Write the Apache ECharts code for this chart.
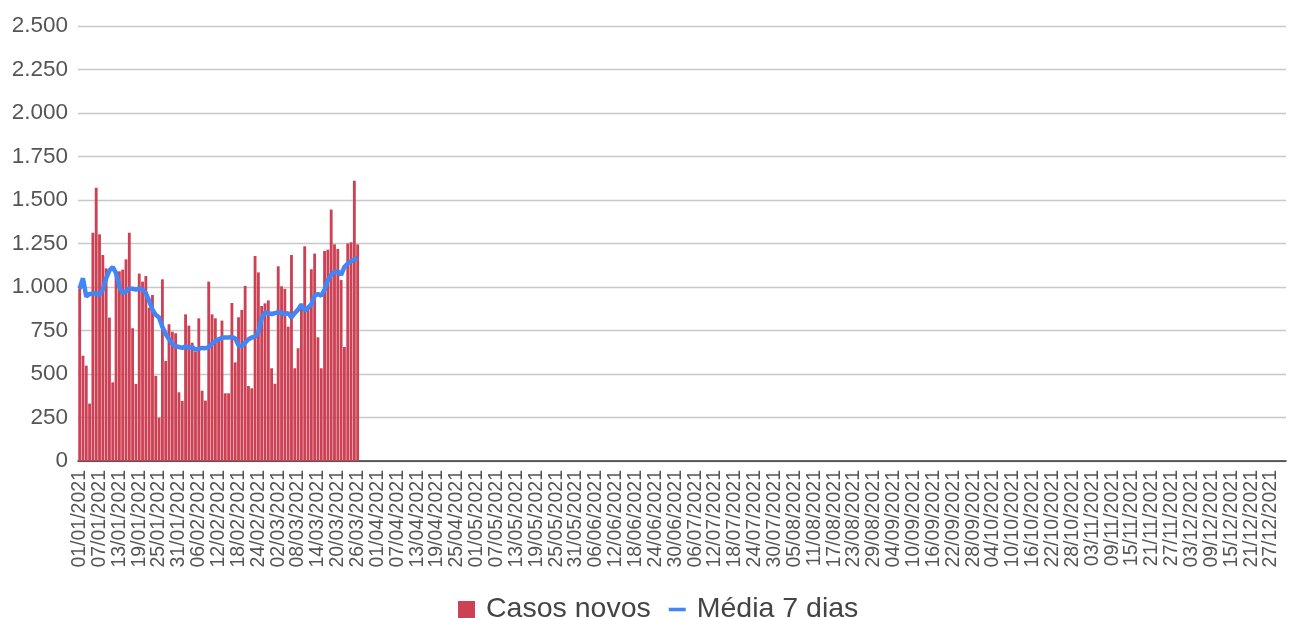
<!DOCTYPE html>
<html><head><meta charset="utf-8">
<script src="https://cdn.jsdelivr.net/npm/echarts@6/dist/echarts.min.js"></script>
<style>html,body{margin:0;padding:0;background:#fff}#c{width:1295px;height:618px}</style>
</head><body><div id="c"></div>
<script>
// Daily new cases, 01/01/2021 .. 26/03/2021
const casosNovos = [
  992, 605, 548, 330, 1312, 1571, 1303, 1184, 1107, 824,
  452, 1085, 1090, 1100, 1159, 1312, 763, 443, 1077, 1031,
  1063, 881, 954, 489, 249, 1044, 575, 786, 743, 734,
  395, 345, 843, 778, 680, 628, 820, 404, 347, 1031,
  843, 820, 700, 807, 389, 389, 908, 567, 826, 868,
  1006, 431, 418, 1178, 1084, 891, 906, 923, 533, 444,
  1119, 1004, 989, 772, 1184, 533, 648, 880, 1234, 870,
  1102, 1192, 711, 533, 1207, 1215, 1445, 1245, 1219, 1040,
  655, 1250, 1257, 1610, 1245
];
// 7-day average as drawn
const media7 = [
  990, 1050, 945, 960, 962, 962, 955, 985, 1050, 1095,
  1115, 1080, 1000, 965, 975, 990, 990, 985, 992, 985,
  965, 920, 870, 840, 825, 770, 730, 700, 675, 660,
  655, 650, 660, 650, 655, 640, 645, 650, 648, 655,
  675, 690, 700, 708, 710, 710, 712, 705, 665, 660,
  680, 700, 710, 715, 740, 820, 855, 850, 845, 850,
  855, 850, 845, 850, 825, 850, 870, 900, 865, 880,
  900, 950, 960, 950, 985, 1040, 1070, 1085, 1090, 1070,
  1115, 1135, 1148, 1158, 1167
];
const yTicks = {min: 0, max: 2500, interval: 250};
const seriesNames = ['Casos novos', 'Média 7 dias'];

// calendar categories for 2021
const categories = [];
for (let d = new Date(Date.UTC(2021,0,1)); d.getUTCFullYear() === 2021; d.setUTCDate(d.getUTCDate()+1)) {
  const dd = String(d.getUTCDate()).padStart(2,'0');
  const mm = String(d.getUTCMonth()+1).padStart(2,'0');
  categories.push(dd + '/' + mm + '/2021');
}
const fmt = v => String(v).replace(/\B(?=(\d{3})+(?!\d))/g, '.');
const FONT = '"Liberation Sans", Arial, sans-serif';

const chart = echarts.init(document.getElementById('c'), null, {renderer: 'canvas'});
chart.setOption({
  animation: false,
  backgroundColor: '#fff',
  textStyle: {fontFamily: FONT},
  grid: {left: 78, right: 9, top: 26, bottom: 157, containLabel: false},
  legend: {
    top: 590, left: 453, itemGap: 18, itemWidth: 17, itemHeight: 17,
    textStyle: {fontSize: 28.5, color: '#444', fontFamily: FONT, padding: [0, 0, 0, 6]},
    data: [
      {name: seriesNames[0], icon: 'rect'},
      {name: seriesNames[1], icon: 'path://M0,7 L24,7 L24,12 L0,12 Z'}
    ]
  },
  xAxis: {
    type: 'category', data: categories, boundaryGap: true,
    axisLine: {lineStyle: {color: '#333', width: 1.5}},
    axisTick: {show: false},
    axisLabel: {interval: 5, rotate: 90, fontSize: 19.5, color: '#555', margin: 9,
                fontFamily: FONT}
  },
  yAxis: {
    type: 'value', min: yTicks.min, max: yTicks.max, interval: yTicks.interval,
    axisLine: {show: false}, axisTick: {show: false},
    splitLine: {lineStyle: {color: '#c8c8c8', width: 1.3}},
    axisLabel: {fontSize: 22.5, color: '#555', margin: 10, formatter: fmt,
                fontFamily: FONT}
  },
  series: [
    {name: seriesNames[0], type: 'bar', data: casosNovos, barCategoryGap: '14%',
     itemStyle: {color: '#cc4154'}},
    {name: seriesNames[1], type: 'line', data: media7, showSymbol: false, symbol: 'none',
     lineStyle: {color: '#4285f4', width: 4.5}, itemStyle: {color: '#4285f4'}, z: 5}
  ]
});
</script></body></html>
